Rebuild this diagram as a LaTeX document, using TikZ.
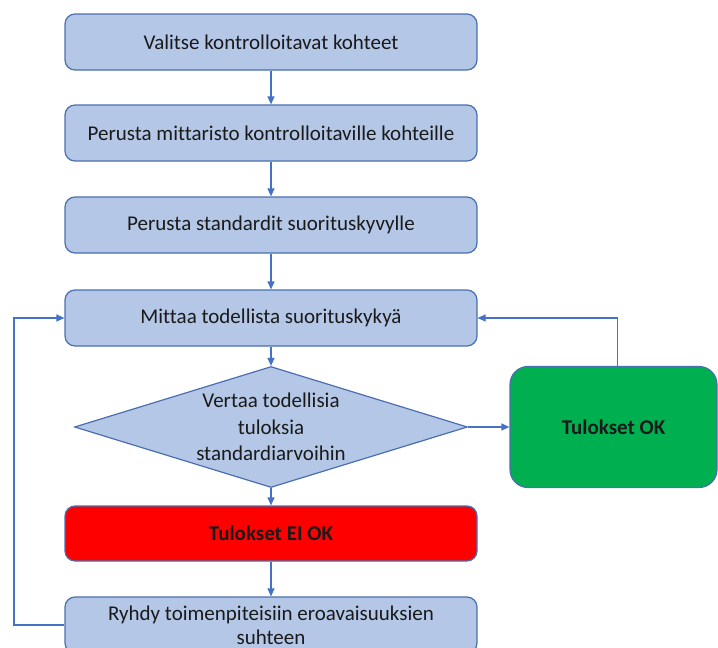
\documentclass[tikz,border=0pt]{standalone}
\usepackage{fontspec}
\setmainfont{Carlito}[Ligatures=NoCommon]
\usetikzlibrary{shapes.geometric,arrows.meta}
\definecolor{boxfill}{HTML}{B4C7E7}
\definecolor{boxline}{HTML}{4A6FB0}
\definecolor{flowline}{HTML}{4472C4}
\definecolor{okgreen}{HTML}{00B050}
\definecolor{failred}{HTML}{FF0000}
\definecolor{inktext}{HTML}{1A1A1A}
\tikzset{
  stepbox/.style={draw=boxline, line width=1.2pt, fill=boxfill, rounded corners=10pt,
    minimum width=412pt, minimum height=56pt, inner sep=2pt, align=center,
    text=inktext, font=\fontsize{21}{26}\selectfont},
  decision/.style={diamond, draw=boxline, line width=1.2pt, fill=boxfill,
    minimum width=393pt, minimum height=121pt, inner sep=0pt},
  flow/.style={draw=flowline, line width=1.2pt, -{Triangle[length=8pt,width=7pt]}},
}
\begin{document}
\begin{tikzpicture}[x=1pt,y=-1pt]
\useasboundingbox (0,0) rectangle (718,648);
\clip (0,0) rectangle (718,648);

\node[stepbox] (b1) at (271,42) {Valitse kontrolloitavat kohteet};
\node[stepbox] (b2) at (271,133) {Perusta mittaristo kontrolloitaville kohteille};
\node[stepbox] (b3) at (271,225) {Perusta standardit suorituskyvylle};
\node[stepbox] (b4) at (271,318) {Mittaa todellista suorituskykyä};
\node[decision, label={[align=center, text=inktext,
      font=\fontsize{21}{26.5}\selectfont]center:Vertaa todellisia\\tuloksia\\standardiarvoihin}]
  (dia) at (271,427) {};
\node[stepbox, fill=okgreen, minimum width=207pt, minimum height=121pt,
      rounded corners=18pt, font=\fontsize{21}{26}\selectfont\bfseries]
  (ok) at (613.5,427) {Tulokset OK};
\node[stepbox, fill=failred, minimum height=55pt,
      font=\fontsize{21}{26}\selectfont\bfseries]
  (fail) at (271,533.5) {Tulokset EI OK};
\node[stepbox, font=\fontsize{21}{24}\selectfont] (b6) at (271,625)
  {Ryhdy toimenpiteisiin eroavaisuuksien\\suhteen};

\coordinate (loopx) at (14,625);

\draw[flow] (b1) -- (b2);
\draw[flow] (b2) -- (b3);
\draw[flow] (b3) -- (b4);
\draw[flow] (b4) -- (dia);
\draw[flow] (dia) -- (fail);
\draw[flow] (fail) -- (b6);
\draw[flow] (dia.east) -- (ok.west);
\draw[flow] ([xshift=4pt]ok.north) |- (b4.east);
\draw[flow] (b6.west) -- (loopx) |- (b4.west);
\end{tikzpicture}
\end{document}
